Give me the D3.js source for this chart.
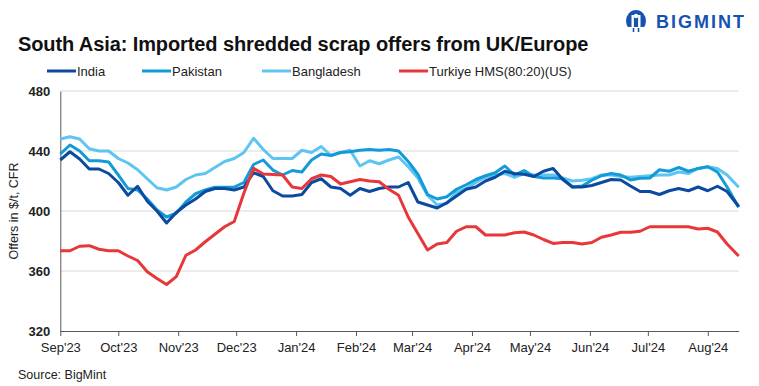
<!DOCTYPE html>
<html>
<head>
<meta charset="utf-8">
<script src="https://cdn.jsdelivr.net/npm/d3@7"></script>
<style>
  body { margin: 0; background: #fff; }
  svg { display: block; font-family: "Liberation Sans", Arial, sans-serif; }
</style>
</head>
<body>
<div id="chart"></div>
<script>
// dates, every 5 days (last one Aug 17)
var dates = [
  "2023-09-01","2023-09-06","2023-09-11","2023-09-16","2023-09-21","2023-09-26",
  "2023-10-01","2023-10-06","2023-10-11","2023-10-16","2023-10-21","2023-10-26","2023-10-31",
  "2023-11-05","2023-11-10","2023-11-15","2023-11-20","2023-11-25","2023-11-30",
  "2023-12-05","2023-12-10","2023-12-15","2023-12-20","2023-12-25","2023-12-30",
  "2024-01-04","2024-01-09","2024-01-14","2024-01-19","2024-01-24","2024-01-29",
  "2024-02-03","2024-02-08","2024-02-13","2024-02-18","2024-02-23","2024-02-28",
  "2024-03-04","2024-03-09","2024-03-14","2024-03-19","2024-03-24","2024-03-29",
  "2024-04-03","2024-04-08","2024-04-13","2024-04-18","2024-04-23","2024-04-28",
  "2024-05-03","2024-05-08","2024-05-13","2024-05-18","2024-05-23","2024-05-28",
  "2024-06-02","2024-06-07","2024-06-12","2024-06-17","2024-06-22","2024-06-27",
  "2024-07-02","2024-07-07","2024-07-12","2024-07-17","2024-07-22","2024-07-27",
  "2024-08-01","2024-08-06","2024-08-11","2024-08-17"
];

var india = [434,439.5,434.7,428,428,425,419,410.5,416.5,406.5,400,392,399,
  404,408,413,415,415,414,416,425.5,423,413.5,410,410,411,419,421.5,416,415,410.5,
  415,413,415,416,416,419,406,404,402,405.5,410,414.5,416,420,422.5,426.5,425,424.5,
  423,426.5,428.4,421,416,416,417,419,421,420.7,416.7,413,413,411,413.5,415,413.5,
  416,413.5,416.5,413,403];

var pakistan = [438,444,440,433.5,433.5,432.7,424,415,414,408,400.7,396,398.5,
  406,411.5,414,415.8,415.8,416,419,431,434,427.3,424,427,426,434,438,437,439,439.5,
  440.5,441,440.5,441,440,433,424.5,411,408,409.5,414.5,417.5,421,423.5,425.5,430,424,427,
  423,422,422,421.5,416,416.7,420.5,423.5,425,424,420.7,421.8,422,427.5,426.5,429,426.5,
  428.4,429.5,426,416,402.5];

var bangladesh = [448,449.5,448,441.5,440,440,435,432,427.5,421.5,415.5,414,416,
  421,424,425,429,433,435,439,448.5,441,435,435,435,440.5,439,443,437,439,440.5,
  430,433.5,431.5,434,436,429.5,422,410.5,404,405,412.5,415,419,422.5,424,425,422.5,425,
  424,424,424,422,420,420.5,421.5,424,424,423,422.5,423,423.5,424,424,426,425,
  428.4,429.5,428.4,424,415.8];

var turkiye = [373.5,373.5,376.5,376.9,374.5,373.5,373.5,370,367,359.5,355,351,356.2,
  370.5,374,379.5,384.5,389.5,393,412,428.5,424.7,424.3,424,416,415,421.5,424,423,418,419.5,
  421,420,419.5,414.5,410.5,396,385,374,378,379,386.5,389.5,389.5,384,384,384,385.5,386,
  384,381,378.4,379,379,378,379,382.5,384,385.8,385.8,386.5,389.5,389.5,389.5,389.5,389.5,
  388,388.5,386,378,370];

var seriesNames = ["India", "Pakistan", "Bangladesh", "Turkiye HMS(80:20)(US)"];
var seriesColors = ["#0b4a9e", "#129bd8", "#5ec4f1", "#e8373a"];
var yTicks = [320, 360, 400, 440, 480];
var xTickDates = ["2023-09-01","2023-10-01","2023-11-01","2023-12-01","2024-01-01","2024-02-01",
  "2024-03-01","2024-04-01","2024-05-01","2024-06-01","2024-07-01","2024-08-01"];

var W = 759, H = 386;
var parse = d3.timeParse("%Y-%m-%d");

var svg = d3.select("#chart").append("svg")
  .attr("width", W)
  .attr("height", H);

// title
svg.append("text")
  .attr("x", 18).attr("y", 51)
  .attr("font-size", 20).attr("font-weight", "bold")
  .attr("letter-spacing", -0.1)
  .attr("fill", "#111")
  .text("South Asia: Imported shredded scrap offers from UK/Europe");

// logo
var logo = svg.append("g").attr("transform", "translate(636,21)");
logo.append("ellipse").attr("rx", 10).attr("ry", 11).attr("fill", "#1653b0");
logo.append("rect").attr("x", -4.5).attr("y", -6).attr("width", 2.4).attr("height", 14).attr("fill", "#fff");
logo.append("rect").attr("x", 2.1).attr("y", -6).attr("width", 2.4).attr("height", 14).attr("fill", "#fff");
logo.append("circle").attr("cx", 0).attr("cy", -5).attr("r", 2.2).attr("fill", "#fff");
logo.append("rect").attr("x", -10).attr("y", 6).attr("width", 20).attr("height", 6).attr("fill", "#fff");
logo.append("rect").attr("x", -3.3).attr("y", 7).attr("width", 1.6).attr("height", 4).attr("fill", "#1653b0");
logo.append("rect").attr("x", 1.7).attr("y", 7).attr("width", 1.6).attr("height", 4).attr("fill", "#1653b0");
svg.append("text")
  .attr("x", 656).attr("y", 28)
  .attr("font-size", 18).attr("font-weight", "bold")
  .attr("letter-spacing", 2)
  .attr("fill", "#1653b0")
  .text("BIGMINT");

// legend
var legendX = [47, 142, 262, 399];
var legend = svg.append("g");
seriesNames.forEach(function(name, i) {
  legend.append("line")
    .attr("x1", legendX[i]).attr("x2", legendX[i] + 29)
    .attr("y1", 71).attr("y2", 71)
    .attr("stroke", seriesColors[i]).attr("stroke-width", 3);
  legend.append("text")
    .attr("x", legendX[i] + 30).attr("y", 75.5)
    .attr("font-size", 13).attr("fill", "#222")
    .text(name);
});

// scales
var x = d3.scaleTime()
  .domain([parse("2023-09-01"), parse("2024-08-17")])
  .range([60.3, 738.7]);
var y = d3.scaleLinear()
  .domain([320, 480])
  .range([331, 91]);

// gridlines
svg.append("g")
  .selectAll("line")
  .data(yTicks.filter(function(d) { return d > 320; }))
  .enter().append("line")
  .attr("x1", x.range()[0]).attr("x2", x.range()[1])
  .attr("y1", function(d) { return y(d); })
  .attr("y2", function(d) { return y(d); })
  .attr("stroke", "#d9d9d9").attr("stroke-width", 1);

// y axis
var yAxis = svg.append("g")
  .attr("transform", "translate(" + x.range()[0] + ",0)")
  .call(d3.axisLeft(y).tickValues(yTicks).tickSize(0).tickPadding(10));
yAxis.select(".domain").attr("stroke", "#595959");
yAxis.selectAll("text")
  .attr("font-size", 13).attr("font-weight", "bold")
  .attr("fill", "#222").attr("font-family", "Liberation Sans, Arial, sans-serif");

// x axis
var xAxis = svg.append("g")
  .attr("transform", "translate(0," + y(320) + ")")
  .call(d3.axisBottom(x)
    .tickValues(xTickDates.map(parse))
    .tickSize(5).tickSizeOuter(0).tickPadding(7)
    .tickFormat(d3.timeFormat("%b'%y")));
xAxis.select(".domain").attr("stroke", "#595959");
xAxis.selectAll(".tick line").attr("stroke", "#595959");
xAxis.selectAll("text")
  .attr("font-size", 13).attr("fill", "#222")
  .attr("font-family", "Liberation Sans, Arial, sans-serif");

// y axis title
svg.append("text")
  .attr("transform", "translate(18,211) rotate(-90)")
  .attr("text-anchor", "middle")
  .attr("font-size", 12.5).attr("fill", "#222")
  .text("Offers in $/t, CFR");

// lines
var allSeries = [india, pakistan, bangladesh, turkiye];
var line = d3.line()
  .x(function(d, i) { return x(parse(dates[i])); })
  .y(function(d) { return y(d); });

// draw so that India sits on top of the blues like the reference
var order = [2, 1, 0, 3];
order.forEach(function(k) {
  svg.append("path")
    .datum(allSeries[k])
    .attr("fill", "none")
    .attr("stroke", seriesColors[k])
    .attr("stroke-width", 3)
    .attr("stroke-linejoin", "round")
    .attr("d", line);
});

// source
svg.append("text")
  .attr("x", 18).attr("y", 379)
  .attr("font-size", 12.5).attr("fill", "#222")
  .text("Source: BigMint");
</script>
</body>
</html>
